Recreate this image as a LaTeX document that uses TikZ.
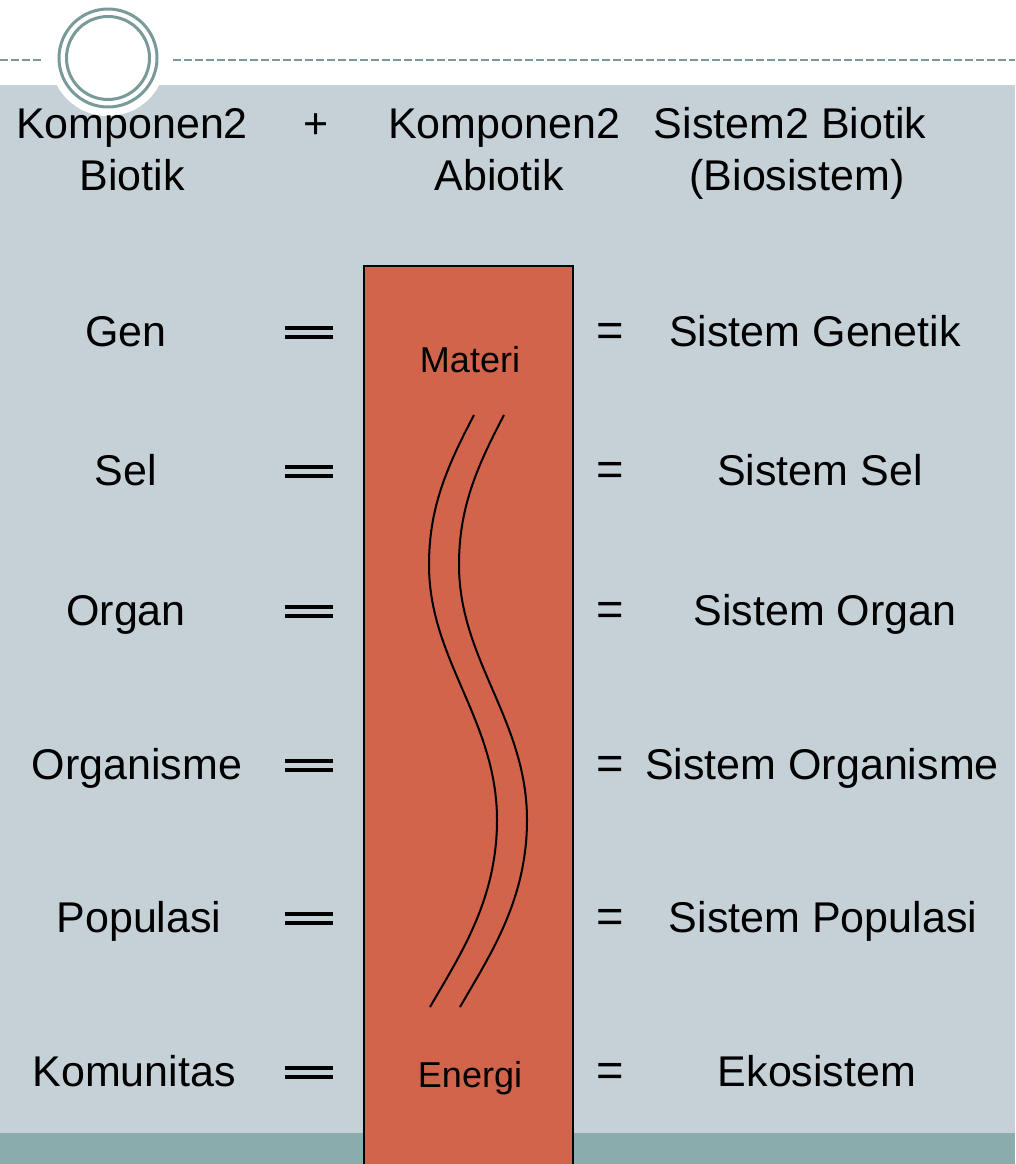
\documentclass[tikz,border=0pt]{standalone}
\usepackage{fontspec}
\setmainfont{Liberation Sans}
\begin{document}
\begin{tikzpicture}[x=1pt,y=-1pt,
  big/.style={font=\fontsize{43}{52}\selectfont, inner sep=0pt, anchor=base},
  small/.style={font=\fontsize{36}{44}\selectfont, inner sep=0pt},
  eqsign/.style={font=\fontsize{47}{52}\selectfont, inner sep=0pt},
  eqbar/.style={line width=4pt, black},
  wave/.style={line width=2pt, black}]
\definecolor{bgblue}{RGB}{197,209,215}
\definecolor{rust}{RGB}{209,100,74}
\definecolor{tealband}{RGB}{138,172,172}
\definecolor{ringc}{RGB}{122,154,154}
\useasboundingbox (0,0) rectangle (1015,1164);
\fill[white] (0,0) rectangle (1015,1164);
\fill[bgblue] (0,85) rectangle (1015,1133);
\fill[tealband] (0,1133) rectangle (1015,1164);
% dashed line and medallion
\draw[ringc, line width=2pt, dash pattern=on 8pt off 3pt] (0,60) -- (42,60);
\draw[ringc, line width=2pt, dash pattern=on 8pt off 3pt] (173,60) -- (1015,60);
\fill[white] (108,58) circle (58);
\draw[ringc, line width=3pt] (108,58) circle (49);
\draw[ringc, line width=3pt] (108,58) circle (41.5);
% central column
\draw[line width=2pt, fill=rust] (364,1170) -- (364,266) -- (573,266) -- (573,1170);
\node[small] (materi) at (470,360) {Materi};
\node[small] (energi) at (470,1078) {Energi};
\draw[wave] (474,415) .. controls (445,470) and (429,510) .. (429,565)
  .. controls (429,660) and (497,720) .. (497,820)
  .. controls (497,900) and (460,955) .. (430,1007);
\draw[wave] (504,415) .. controls (475,470) and (459,510) .. (459,565)
  .. controls (459,660) and (527,720) .. (527,820)
  .. controls (527,900) and (490,955) .. (460,1007);
% header
\node[big] (h1a) at (132,138) {Komponen2};
\node[big] (h1b) at (132,190) {Biotik};
\node[big] (plus) at (316,138) {+};
\node[big] (h2a) at (504,138) {Komponen2};
\node[big] (h2b) at (499,190) {Abiotik};
\node[big] (h3a) at (790,138) {Sistem2 Biotik};
\node[big] (h3b) at (797,190) {(Biosistem)};
% rows
\foreach \lab/\xl/\rlab/\xr/\y [count=\i] in
  {Gen/126/Sistem Genetik/815/331,
   Sel/126/Sistem Sel/820/470,
   Organ/126/Sistem Organ/825/610,
   Organisme/137/Sistem Organisme/822/764,
   Populasi/139/Sistem Populasi/823/917,
   Komunitas/134/Ekosistem/817/1071}{
  \node[big] (l\i) at (\xl,\y+15) {\lab};
  \node[big] (r\i) at (\xr,\y+15) {\rlab};
  \node[eqsign] (e\i) at (610,\y+4) {=};
  \draw[eqbar] (285,\y-3) -- (333,\y-3);
  \draw[eqbar] (285,\y+6) -- (333,\y+6);
}
\end{tikzpicture}
\end{document}
